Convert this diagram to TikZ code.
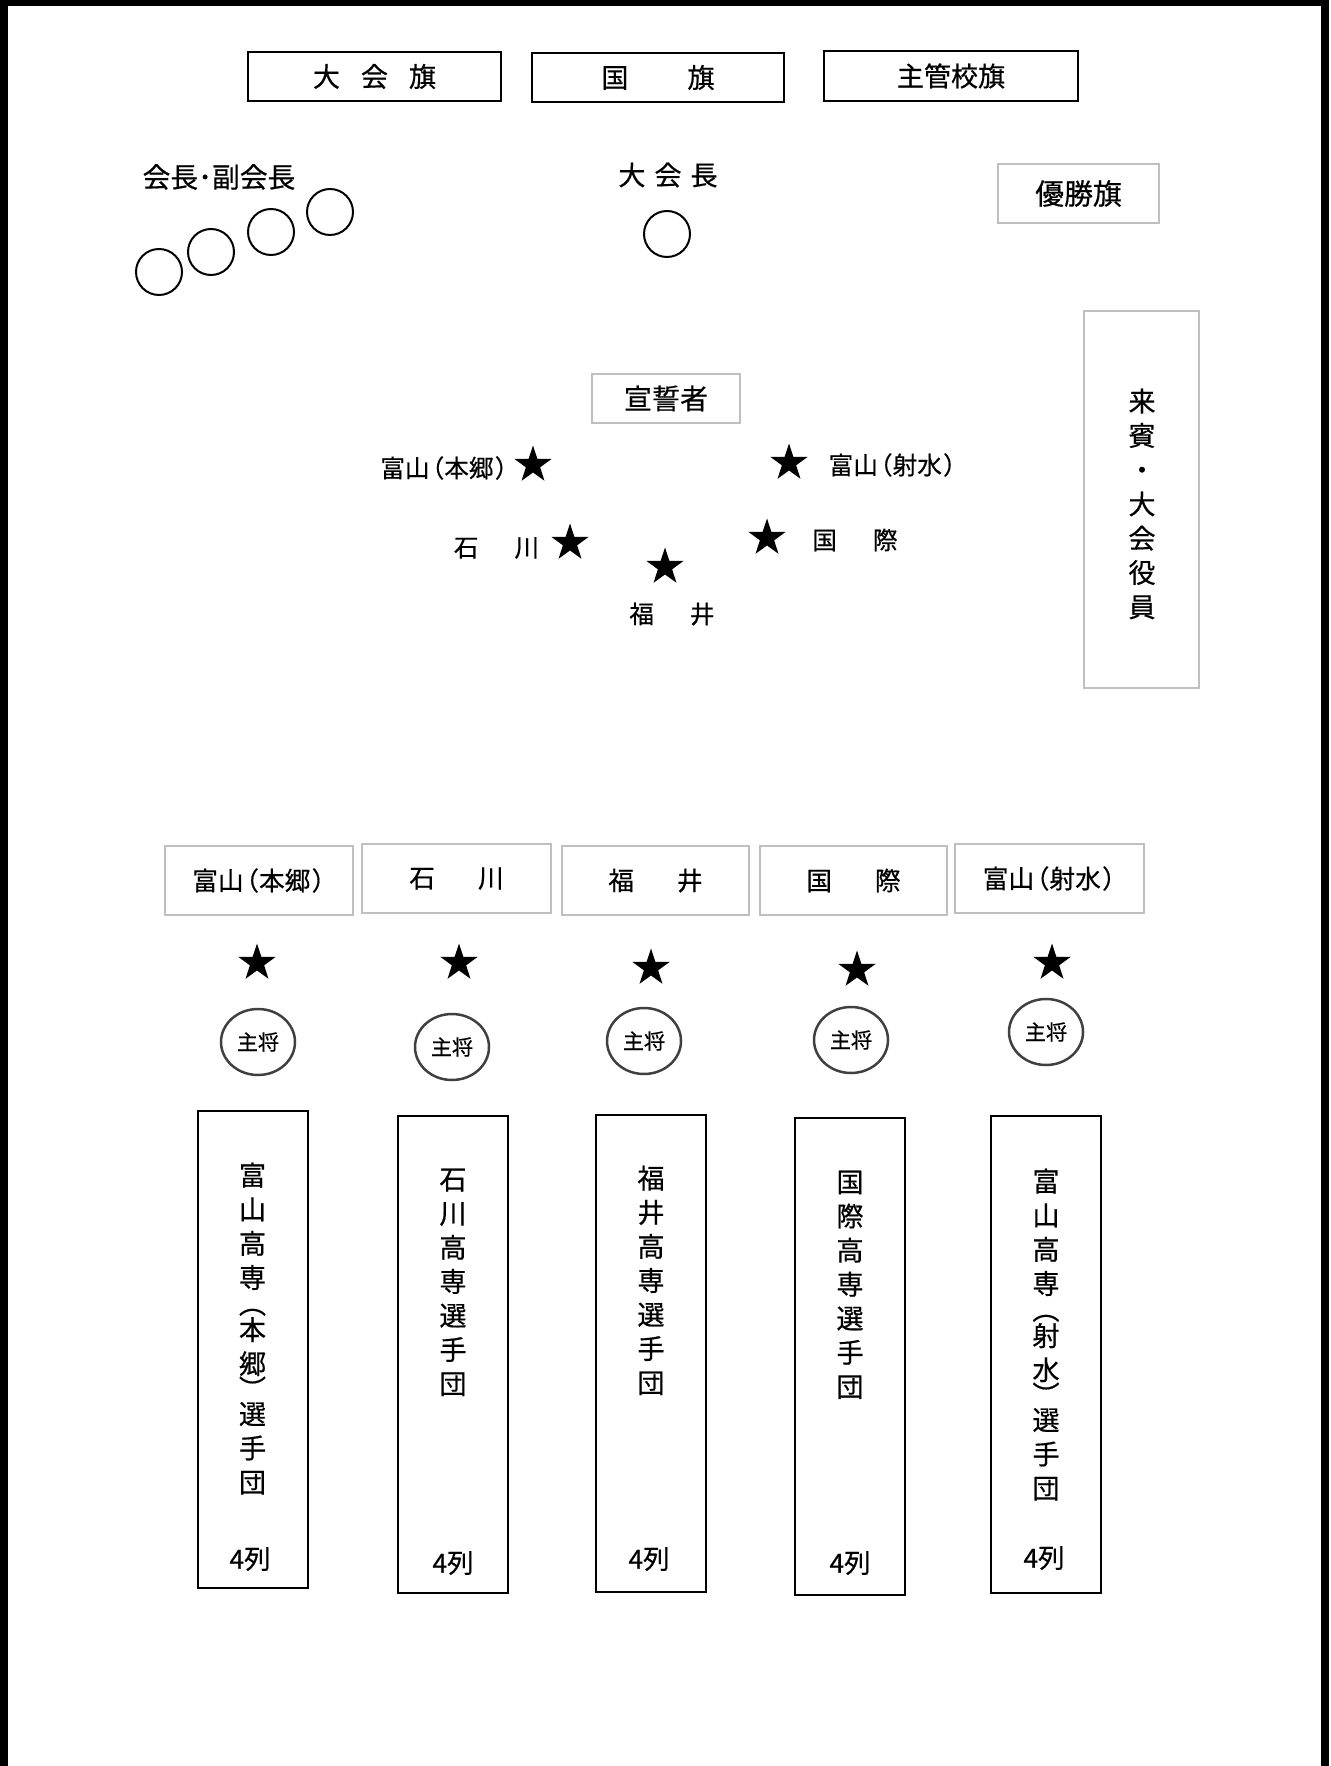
\documentclass[tikz,border=0pt]{standalone}
\usepackage{fontspec}
\usetikzlibrary{shapes.geometric,positioning}
\newfontfamily\jpfont[FakeBold=0.5]{Noto Sans CJK JP}
\newcommand{\Lp}{\kern-0.4em（}
\newcommand{\Rp}{\kern0.05em）\kern-0.45em}
\tikzset{
FlagBox/.style={
 draw=black,
 line width=0.2mm,
 minimum width=25.3mm,
 minimum height=4.9mm,
 inner sep=0pt,
 font=\jpfont\fontsize{7.7pt}{9pt}\selectfont
 },
GreyBox/.style={
 draw=black!25,
 line width=0.25mm,
 inner sep=0pt,
 font=\jpfont\fontsize{8pt}{10pt}\selectfont
 },
TeamBox/.style={
 GreyBox,
 minimum width=18.8mm,
 minimum height=6.9mm,
 font=\jpfont\fontsize{7.3pt}{9pt}\selectfont
 },
Seat/.style={
 circle,
 draw=black,
 line width=0.2mm,
 minimum size=4.6mm,
 inner sep=0pt
 },
Captain/.style={
 ellipse,
 draw=black!75,
 line width=0.25mm,
 minimum width=7.4mm,
 minimum height=6.6mm,
 inner sep=0pt,
 font=\jpfont\fontsize{6pt}{7pt}\selectfont
 },
StarMark/.style={
 star,
 star points=5,
 star point ratio=2.6,
 fill=black,
 draw=none,
 minimum size=3.9mm,
 inner sep=0pt
 },
StarLabel/.style={
 inner sep=0pt,
 font=\jpfont\fontsize{7pt}{8pt}\selectfont
 },
Caption/.style={
 inner sep=0pt,
 font=\jpfont\fontsize{7.9pt}{9pt}\selectfont
 },
ColBox/.style={
 draw=black,
 line width=0.2mm,
 minimum width=11mm,
 minimum height=47.7mm,
 inner sep=0pt
 },
ColText/.style={
 anchor=north,
 align=center,
 inner sep=0pt,
 font=\jpfont\fontsize{7.7pt}{9.7pt}\selectfont
 },
RowCount/.style={
 inner sep=0pt,
 font=\jpfont\fontsize{7.5pt}{8pt}\selectfont
 }
}

\begin{document}
\begin{tikzpicture}[x=0.1mm,y=-0.1mm]
\useasboundingbox (0,0) rectangle (1330,1766);
% frame, open at the bottom
\draw[line width=0.8mm,line join=miter] (4,1800) -- (4,2) -- (1325,2) -- (1325,1800);

% flags
\node[FlagBox] (taikaiki) at (374.5,76.5) {大\hspace{2.1mm}会\hspace{2.1mm}旗};
\node[FlagBox,minimum width=25.2mm] (kokki) at (658,77.5) {国\hspace{5.9mm}旗};
\node[FlagBox,minimum width=25.4mm,minimum height=5mm] (shukanki) at (951,76) {主管校旗};
\node[GreyBox,minimum width=16.1mm,minimum height=5.9mm,font=\jpfont\fontsize{8.2pt}{10pt}\selectfont] (yushoki) at (1078.5,193.5) {優勝旗};

% officials
\node[Caption] (fukukaicho) at (219,177) {会長･副会長};
\node[Seat] (seatA) at (159,272) {};
\node[Seat] (seatB) at (211,252) {};
\node[Seat] (seatC) at (271,232) {};
\node[Seat] (seatD) at (330,212) {};
\node[Caption,font=\jpfont\fontsize{7.7pt}{9pt}\selectfont] (taikaicho) at (668,175) {大\hspace{0.9mm}会\hspace{0.9mm}長};
\node[Seat] (seatE) at (667,234) {};

\node[GreyBox,minimum width=14.8mm,minimum height=4.9mm] (senseisha) at (666,398.5) {宣誓者};
\node[GreyBox,minimum width=11.5mm,minimum height=37.7mm] (raihin) at (1141.5,499.5) {};
\node[ColText,font=\jpfont\fontsize{7.7pt}{9.75pt}\selectfont] at (1142,388) {来\\賓\\・\\大\\会\\役\\員};

% oath takers
\node[StarMark] (honA) at (533,465) {};
\node[StarLabel,anchor=east] at (509,468) {富山\Lp 本郷\Rp};
\node[StarMark] (ishiA) at (570,543) {};
\node[StarLabel] at (496.5,548) {石\hspace{3.6mm}川};
\node[StarMark] (fukuA) at (665,567) {};
\node[StarLabel] at (672,614) {福\hspace{3.6mm}井};
\node[StarMark] (kokuA) at (767,538) {};
\node[StarLabel] at (855,540) {国\hspace{3.6mm}際};
\node[StarMark] (imiA) at (789,463) {};
\node[StarLabel,anchor=west] at (828,465) {富山\Lp 射水\Rp};

% teams
\node[TeamBox] (honB) at (259,880.5) {富山\Lp 本郷\Rp};
\node[TeamBox,minimum width=18.9mm] (ishiB) at (456.5,878.5) {石\hspace{4.3mm}川};
\node[TeamBox,minimum width=18.7mm] (fukuB) at (655.5,880.5) {福\hspace{4.3mm}井};
\node[TeamBox,minimum width=18.7mm] (kokuB) at (853.5,880.5) {国\hspace{4.3mm}際};
\node[TeamBox,minimum width=18.9mm] (imiB) at (1049.5,878.5) {富山\Lp 射水\Rp};

\node[StarMark] (honC) at (257,963) {};
\node[StarMark] (ishiC) at (459,963) {};
\node[StarMark] (fukuC) at (651,968) {};
\node[StarMark] (kokuC) at (857,970) {};
\node[StarMark] (imiC) at (1052,963) {};

\node[Captain] (honD) at (258,1042) {主将};
\node[Captain] (ishiD) at (452,1047) {主将};
\node[Captain] (fukuD) at (644,1041) {主将};
\node[Captain] (kokuD) at (851,1040) {主将};
\node[Captain] (imiD) at (1046,1032) {主将};

\node[ColBox] (honE) at (252.5,1349) {};
\node[ColBox] (ishiE) at (453,1354.5) {};
\node[ColBox] (fukuE) at (651,1353) {};
\node[ColBox] (kokuE) at (850,1356.5) {};
\node[ColBox] (imiE) at (1046,1354.5) {};

\node[ColText] at (252.5,1162) {富\\山\\高\\専\\[-0.8mm]︵\\[-0.8mm]本\\郷\\[-0.9mm]︶\\[-0.9mm]選\\手\\団};
\node[ColText] at (453,1168) {石\\川\\高\\専\\選\\手\\団};
\node[ColText] at (651,1165) {福\\井\\高\\専\\選\\手\\団};
\node[ColText] at (850,1170) {国\\際\\高\\専\\選\\手\\団};
\node[ColText] at (1046,1168) {富\\山\\高\\専\\[-0.8mm]︵\\[-0.8mm]射\\水\\[-0.9mm]︶\\[-0.9mm]選\\手\\団};

\node[RowCount] at (250,1559) {4列};
\node[RowCount] at (453,1563) {4列};
\node[RowCount] at (649,1559) {4列};
\node[RowCount] at (850,1563) {4列};
\node[RowCount] at (1044,1558) {4列};
\end{tikzpicture}
\end{document}
